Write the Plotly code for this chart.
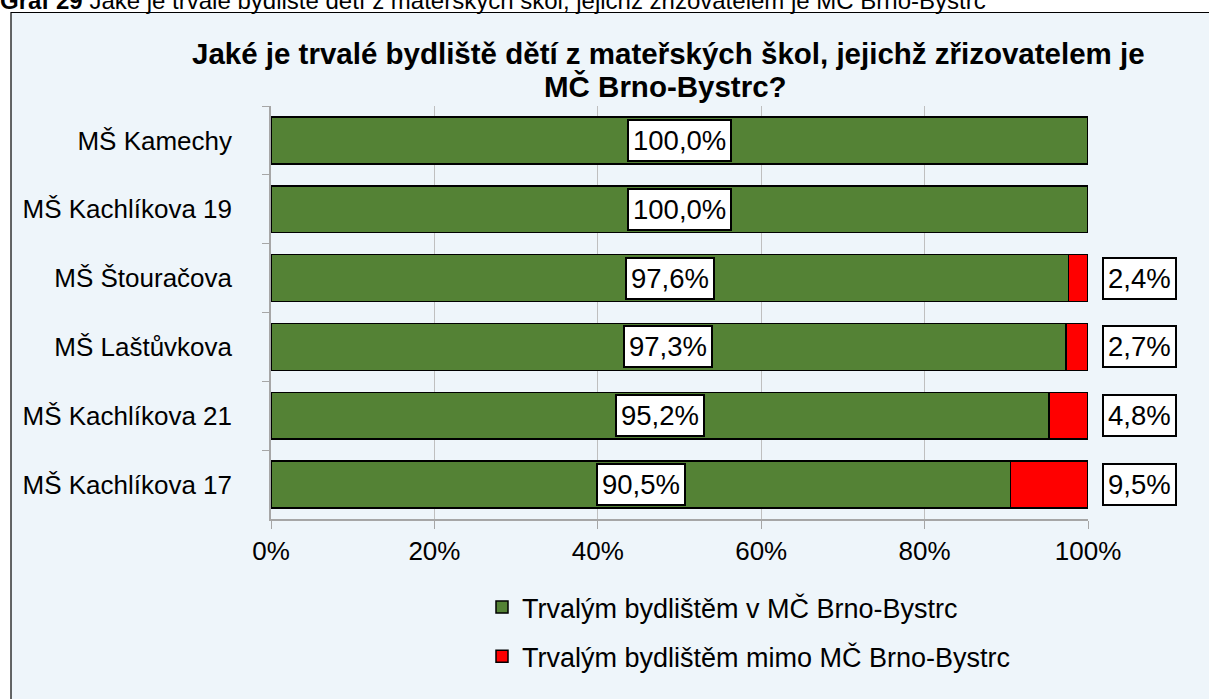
import plotly.graph_objects as go

categories = ["MŠ Kamechy", "MŠ Kachlíkova 19", "MŠ Štouračova",
              "MŠ Laštůvkova", "MŠ Kachlíkova 21", "MŠ Kachlíkova 17"]
inside_vals = [100.0, 100.0, 97.6, 97.3, 95.2, 90.5]
outside_vals = [0.0, 0.0, 2.4, 2.7, 4.8, 9.5]
series_names = ["Trvalým bydlištěm v MČ Brno-Bystrc", "Trvalým bydlištěm mimo MČ Brno-Bystrc"]
tick_vals = [0, 20, 40, 60, 80, 100]
tick_text = ["0%", "20%", "40%", "60%", "80%", "100%"]
title_lines = ["Jaké je trvalé bydliště dětí z mateřských škol, jejichž zřizovatelem je",
               "MČ Brno-Bystrc?"]
header_text = "<b>Graf 29</b> Jaké je trvalé bydliště dětí z mateřských škol, jejichž zřizovatelem je MČ Brno-Bystrc"

FONT = "Arial, Liberation Sans, sans-serif"
W, H = 1209, 699
L, R, T, B = 271, 121, 106, 180
pw, ph = W - L - R, H - T - B

def px_x(p):
    return (p - L) / pw

def px_y(p):
    return (H - B - p) / ph

fig = go.Figure()
fig.add_trace(go.Bar(
    y=categories, x=inside_vals, orientation="h", name=series_names[0],
    marker=dict(color="#548235", line=dict(color="#000000", width=1.5)),
    legendgroup="a", hoverinfo="skip"))
fig.add_trace(go.Bar(
    y=categories, x=outside_vals, orientation="h", name=series_names[1],
    marker=dict(color="#FF0000", line=dict(color="#000000", width=1.5)),
    legendgroup="b", hoverinfo="skip"))

annotations = []
for c, v in zip(categories, inside_vals):
    annotations.append(dict(
        x=v / 2, y=c, xref="x", yref="y", showarrow=False,
        text=f"{v:.1f}%".replace(".", ","),
        font=dict(family=FONT, size=27.5, color="#000000"),
        bgcolor="#FFFFFF", bordercolor="#000000", borderwidth=2, borderpad=4))
for c, v in zip(categories, outside_vals):
    if v > 0:
        annotations.append(dict(
            x=px_x(1139), y=c, xref="paper", yref="y", showarrow=False,
            xanchor="center",
            text=f"{v:.1f}%".replace(".", ","),
            font=dict(family=FONT, size=27.5, color="#000000"),
            bgcolor="#FFFFFF", bordercolor="#000000", borderwidth=2, borderpad=4))
for line, cx, cy in zip(title_lines, [668, 665], [53, 87]):
    annotations.append(dict(
        x=px_x(cx), y=px_y(cy), xref="paper", yref="paper", showarrow=False,
        text="<b>" + line + "</b>", xanchor="center", yanchor="middle",
        font=dict(family=FONT, size=29.5, color="#000000")))
annotations.append(dict(
    x=px_x(-2), y=px_y(16), xref="paper", yref="paper", showarrow=False,
    text=header_text, xanchor="left", yanchor="bottom",
    font=dict(family=FONT, size=24, color="#000000")))

shapes = [dict(
    type="rect", xref="paper", yref="paper", layer="below",
    x0=px_x(11), x1=px_x(1260), y0=px_y(12.5), y1=px_y(760),
    fillcolor="#EEF5FA", line=dict(color="#000000", width=1.2))]

fig.update_layout(
    width=W, height=H,
    margin=dict(l=L, r=R, t=T, b=B, pad=0),
    barmode="stack", bargap=0.32,
    paper_bgcolor="#FFFFFF", plot_bgcolor="#FFFFFF",
    font=dict(family=FONT, size=26, color="#000000"),
    showlegend=True,
    legend=dict(x=px_x(482), y=px_y(583), xanchor="left", yanchor="top",
                orientation="v", traceorder="grouped", tracegroupgap=11,
                bgcolor="rgba(0,0,0,0)", font=dict(family=FONT, size=27),
                itemwidth=30),
    xaxis=dict(range=[0, 100], tickvals=tick_vals, ticktext=tick_text,
               showgrid=True, gridcolor="#BFBFBF", gridwidth=1,
               showline=True, linecolor="#A6A6A6", linewidth=1.5,
               ticks="outside", ticklen=8, tickcolor="#A6A6A6",
               tickfont=dict(family=FONT, size=26), zeroline=False, fixedrange=True),
    yaxis=dict(autorange="reversed", showline=True, linecolor="#A6A6A6", linewidth=1.5,
               ticks="outside", ticklen=7, tickcolor="#A6A6A6", tickson="boundaries",
               ticklabelstandoff=32,
               showgrid=False, tickfont=dict(family=FONT, size=26), fixedrange=True),
    annotations=annotations, shapes=shapes,
)

fig.write_html("out.html", config={"responsive": False, "displayModeBar": False},
               post_script="document.body.style.margin='0';document.body.style.overflow='hidden';")
